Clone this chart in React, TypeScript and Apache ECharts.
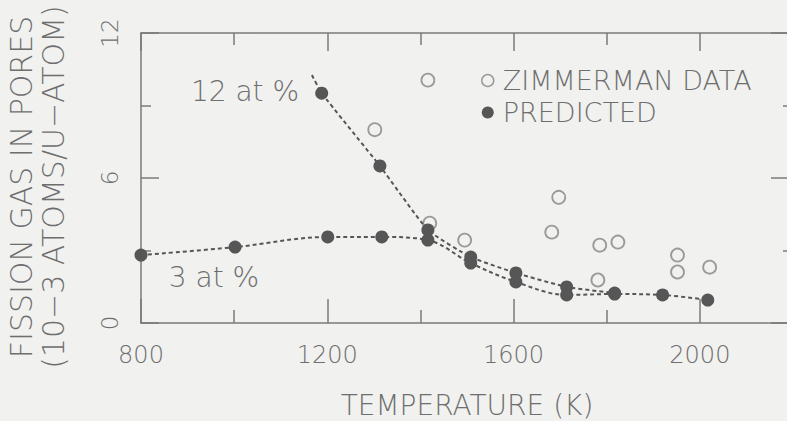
import React, { useEffect, useRef } from "react";
import * as echarts from "echarts";

// ---- data ----
const xTickLabels = [800, 1200, 1600, 2000];
const yTickLabels = [0, 6, 12];

// open circles
const zimmermanData: [number, number][] = [
  [1302, 8.0],
  [1416, 10.05],
  [1420, 4.13],
  [1495, 3.43],
  [1682, 3.76],
  [1697, 5.2],
  [1781, 1.78],
  [1785, 3.22],
  [1824, 3.35],
  [1952, 2.81],
  [1952, 2.11],
  [2021, 2.31],
];

// filled circles, 12 at %
const predicted12Start: [number, number] = [1167, 10.26];
const predicted12: [number, number][] = [
  [1188, 9.51],
  [1313, 6.5],
  [1416, 3.85],
  [1508, 2.73],
  [1605, 2.07],
  [1714, 1.49],
  [1817, 1.24],
];

// filled circles, 3 at %
const predicted3: [number, number][] = [
  [800, 2.81],
  [1002, 3.14],
  [1201, 3.56],
  [1317, 3.56],
  [1416, 3.43],
  [1508, 2.48],
  [1605, 1.7],
  [1714, 1.16],
  [1817, 1.2],
  [1920, 1.16],
  [2017, 0.95],
];

const FONT = "DejaVu Sans";
const TEXT = "#6e6e6e";
const AXIS = "#7a7a7a";
const DARK = "#565656";
const OPEN = "#858585";
const BG = "#f1f1ef";

export default function App() {
  const ref = useRef<HTMLDivElement>(null);

  useEffect(() => {
    const chart = echarts.init(ref.current!, null, { renderer: "svg" });

    const lineStyle = { color: DARK, width: 2, type: [4, 3] as any };

    const xCommon = {
      type: "value" as const,
      min: 800,
      max: 2200,
      interval: 400,
      splitLine: { show: false },
      axisLine: { show: true, onZero: false, lineStyle: { color: AXIS, width: 1.5 } },
    };
    const yCommon = {
      type: "value" as const,
      min: 0,
      max: 12,
      interval: 6,
      splitLine: { show: false },
      axisLine: { show: true, onZero: false, lineStyle: { color: AXIS, width: 1.5 } },
    };

    chart.setOption({
      animation: false,
      backgroundColor: BG,
      textStyle: { fontFamily: FONT, color: TEXT },
      grid: { left: 141, top: 33, bottom: 98, right: -6, outerBoundsMode: "none", containLabel: false },
      legend: {
        orient: "vertical",
        left: 476,
        top: 62,
        itemWidth: 20,
        itemHeight: 12,
        itemGap: 5,
        textStyle: { fontFamily: FONT, fontSize: 27, color: TEXT, fontWeight: 300 },
        data: [
          {
            name: "ZIMMERMAN DATA",
            icon: "circle",
            itemStyle: { color: "transparent", borderColor: OPEN, borderWidth: 1.5 },
          },
          { name: "PREDICTED", icon: "circle", itemStyle: { color: DARK, borderWidth: 0 } },
        ],
      },
      xAxis: [
        {
          ...xCommon,
          position: "bottom",
          name: "TEMPERATURE (K)",
          nameLocation: "middle",
          nameGap: 68,
          nameTextStyle: { fontFamily: FONT, fontSize: 28, color: TEXT, fontWeight: 300 },
          axisTick: { show: true, inside: true, length: 24, lineStyle: { color: AXIS, width: 1.5 } },
          minorTick: { show: true, splitNumber: 2, length: 13, lineStyle: { color: AXIS, width: 1.5 } },
          axisLabel: {
            show: true,
            margin: 20,
            fontSize: 24,
            fontFamily: FONT,
            color: TEXT,
            fontWeight: 300,
            formatter: (v: number) => (xTickLabels.includes(v) ? String(v) : ""),
          },
        },
        {
          ...xCommon,
          position: "top",
          axisTick: { show: true, inside: true, length: 18, lineStyle: { color: AXIS, width: 1.5 } },
          minorTick: { show: true, splitNumber: 2, length: 12, lineStyle: { color: AXIS, width: 1.5 } },
          axisLabel: { show: false },
        },
      ],
      yAxis: [
        {
          ...yCommon,
          position: "left",
          name: "FISSION GAS IN PORES\n(10−3 ATOMS/U−ATOM)",
          nameLocation: "middle",
          nameRotate: 90,
          nameGap: 72,
          nameTextStyle: {
            fontFamily: FONT,
            fontSize: 30,
            color: TEXT,
            fontWeight: 300,
            lineHeight: 32,
            padding: [0, 18, 0, 0],
          },
          axisTick: { show: true, inside: true, length: 18, lineStyle: { color: AXIS, width: 1.5 } },
          minorTick: { show: true, splitNumber: 2, length: 10, lineStyle: { color: AXIS, width: 1.5 } },
          axisLabel: {
            show: true,
            rotate: 90,
            margin: 20,
            fontSize: 23,
            fontFamily: FONT,
            color: TEXT,
            fontWeight: 300,
            formatter: (v: number) => (yTickLabels.includes(v) ? String(v) : ""),
          },
        },
        {
          ...yCommon,
          position: "right",
          axisTick: { show: true, inside: true, length: 22, lineStyle: { color: AXIS, width: 1.5 } },
          minorTick: { show: true, splitNumber: 2, length: 10, lineStyle: { color: AXIS, width: 1.5 } },
          axisLabel: { show: false },
        },
      ],
      graphic: [
        {
          type: "text",
          x: 245,
          y: 91,
          style: {
            text: "12 at %",
            fontFamily: FONT,
            fontSize: 28,
            fontWeight: 300,
            fill: TEXT,
            align: "center",
            verticalAlign: "middle",
          },
        },
        {
          type: "text",
          x: 214,
          y: 277,
          style: {
            text: "3 at %",
            fontFamily: FONT,
            fontSize: 28,
            fontWeight: 300,
            fill: TEXT,
            align: "center",
            verticalAlign: "middle",
          },
        },
      ],
      series: [
        {
          name: "ZIMMERMAN DATA",
          type: "scatter",
          xAxisIndex: 0,
          yAxisIndex: 0,
          symbol: "circle",
          symbolSize: 13,
          itemStyle: { color: "transparent", borderColor: OPEN, borderWidth: 1.8 },
          data: zimmermanData,
          z: 3,
        },
        {
          name: "PREDICTED",
          type: "line",
          xAxisIndex: 0,
          yAxisIndex: 0,
          symbol: "circle",
          symbolSize: 13,
          smooth: 0.15,
          itemStyle: { color: DARK, borderWidth: 0 },
          lineStyle,
          data: [
            { value: predicted12Start, symbol: "none" },
            ...predicted12.map((p) => ({ value: p })),
          ],
          z: 4,
        },
        {
          name: "PREDICTED",
          type: "line",
          xAxisIndex: 0,
          yAxisIndex: 0,
          symbol: "circle",
          symbolSize: 13,
          smooth: 0.35,
          itemStyle: { color: DARK, borderWidth: 0 },
          lineStyle,
          data: predicted3,
          z: 4,
        },
      ],
    });

    return () => chart.dispose();
  }, []);

  return (
    <div
      ref={ref}
      style={{ position: "fixed", left: 0, top: 0, width: 787, height: 421, background: BG }}
    />
  );
}
